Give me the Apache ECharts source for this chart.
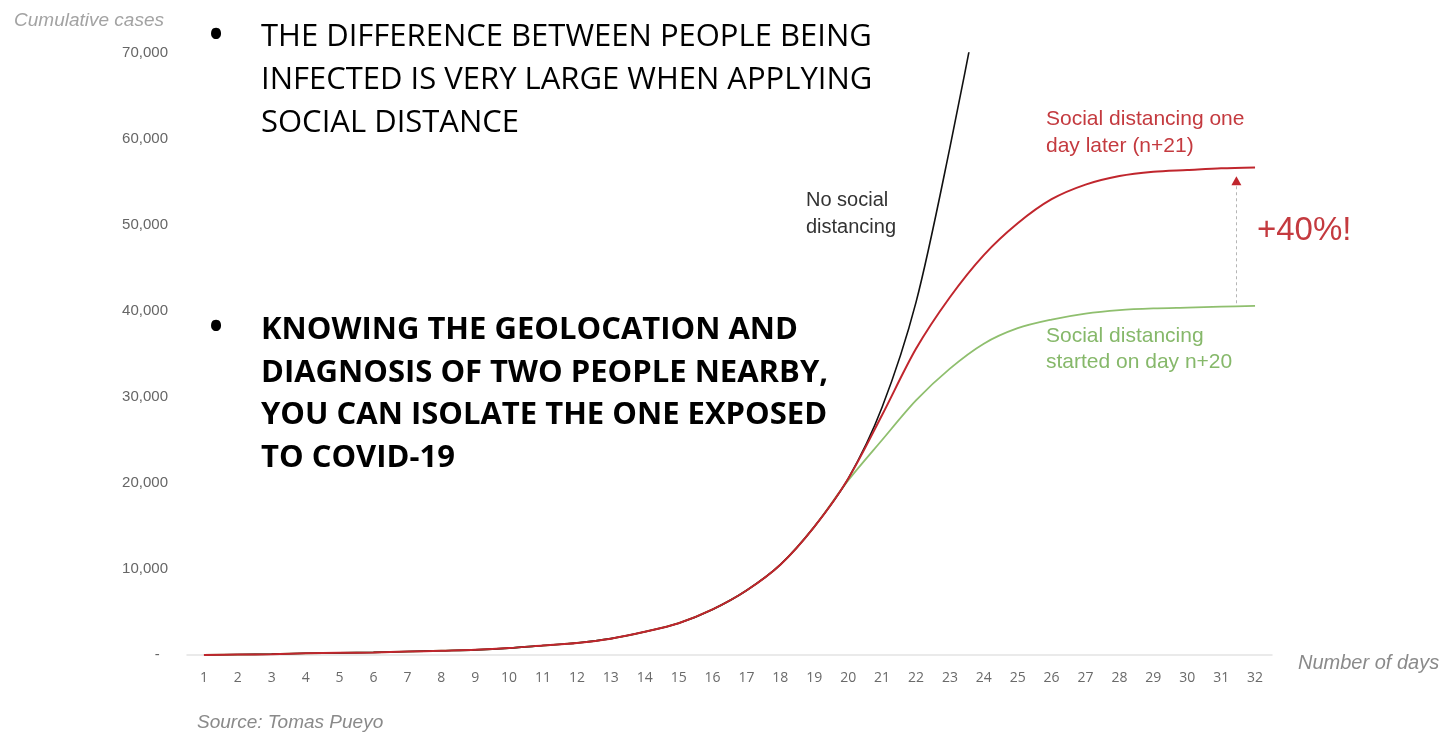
<!DOCTYPE html>
<html>
<head>
<meta charset="utf-8">
<script src="https://cdn.jsdelivr.net/npm/echarts@6/dist/echarts.min.js"></script>
<style>
  html, body { margin: 0; padding: 0; background: #fff; }
  #main { width: 1445px; height: 733px; }
</style>
</head>
<body>
<div id="main"></div>
<script>
// days on the x axis
var days = [1,2,3,4,5,6,7,8,9,10,11,12,13,14,15,16,17,18,19,20,21,22,23,24,25,26,27,28,29,30,31,32];
var yTicks = [0,10000,20000,30000,40000,50000,60000,70000];

// cumulative cases
var noDistancing = [0,50,100,200,250,300,400,500,600,800,1100,1400,1900,2700,3700,5300,7500,10500,14900,20500,28800,41000,59000,79000];
var distancingDay21 = [0,50,100,200,250,300,400,500,600,800,1100,1400,1900,2700,3700,5300,7500,10500,14900,20500,27900,35600,41600,46500,50200,53000,54700,55700,56200,56400,56600,56700];
var distancingDay20 = [0,50,100,200,250,300,400,500,600,800,1100,1400,1900,2700,3700,5300,7500,10500,14900,20300,25000,29600,33300,36200,38000,39000,39700,40100,40300,40400,40500,40600];

// the +40% arrow between the two plateaus
var arrowDay = 31.45;
var arrowFrom = 40900;
var arrowTo = 54600;

function pairs(vals) {
    var out = [];
    for (var i = 0; i < vals.length; i++) {
        out.push([days[i], vals[i]]);
    }
    return out;
}

var chart = echarts.init(document.getElementById('main'));

var option = {
    animation: false,
    title: [
        {
            text: 'Cumulative cases',
            right: 1445 - 169, top: 6,
            textStyle: { fontFamily: 'Liberation Sans', fontStyle: 'italic', fontWeight: 'normal', fontSize: 19, color: '#a3a3a3' }
        },
        {
            text: 'Source: Tomas Pueyo',
            left: 192, top: 708,
            textStyle: { fontFamily: 'Liberation Sans', fontStyle: 'italic', fontWeight: 'normal', fontSize: 19, color: '#8a8a8a' }
        }
    ],
    grid: { left: 187, right: 173, top: 53, bottom: 78 },
    xAxis: {
        type: 'value',
        min: 0.5,
        max: 32.5,
        name: 'Number of days',
        nameLocation: 'end',
        nameGap: 26,
        nameTextStyle: { fontFamily: 'Liberation Sans', fontStyle: 'italic', fontSize: 20, color: '#8a8a8a', verticalAlign: 'top', padding: [-2, 0, 0, 0] },
        axisLine: { show: true, lineStyle: { color: '#e3e3e3', width: 1.5 } },
        axisTick: { show: false },
        splitLine: { show: false },
        axisLabel: {
            customValues: days,
            margin: 16,
            fontFamily: 'Open Sans',
            fontSize: 14,
            color: '#6a6a6a'
        }
    },
    yAxis: {
        type: 'value',
        min: 0,
        max: 70000,
        interval: 10000,
        axisLine: { show: false },
        axisTick: { show: false },
        splitLine: { show: false },
        axisLabel: {
            margin: 19,
            fontFamily: 'Liberation Sans',
            fontSize: 15,
            color: '#666',
            formatter: function (v) {
                if (yTicks.indexOf(v) < 0) return '';
                return v === 0 ? '-  ' : v.toLocaleString('en-US');
            }
        }
    },
    series: [
        {
            name: 'Social distancing started on day n+20',
            type: 'line',
            data: pairs(distancingDay20),
            smooth: 0.3,
            showSymbol: false,
            lineStyle: { color: '#8fbf6e', width: 1.8 },
            markLine: {
                silent: true,
                symbol: ['none', 'none'],
                label: { show: false },
                lineStyle: { color: '#b5b5b5', type: [3, 3], width: 1 },
                data: [[{ coord: [arrowDay, arrowFrom] }, { coord: [arrowDay, arrowTo] }]]
            },
            markPoint: {
                silent: true,
                symbol: 'triangle',
                symbolSize: [10, 9],
                label: { show: false },
                itemStyle: { color: '#c0262d' },
                data: [{ coord: [arrowDay, arrowTo + 550] }]
            }
        },
        {
            name: 'No social distancing',
            type: 'line',
            data: pairs(noDistancing),
            smooth: 0.3,
            showSymbol: false,
            clip: true,
            lineStyle: { color: '#111', width: 1.6 }
        },
        {
            name: 'Social distancing one day later (n+21)',
            type: 'line',
            data: pairs(distancingDay21),
            smooth: 0.3,
            showSymbol: false,
            lineStyle: { color: '#c0262d', width: 2 }
        }
    ],
    graphic: [
        // slide bullet points
        { type: 'text', x: 216, y: 37, style: { text: '•', font: '48px "Open Sans"', fill: '#000', align: 'center', verticalAlign: 'middle' } },
        { type: 'text', left: 261, top: 16, style: { text: 'THE DIFFERENCE BETWEEN PEOPLE BEING\nINFECTED IS VERY LARGE WHEN APPLYING\nSOCIAL DISTANCE', font: '31px "Open Sans"', lineHeight: 43, fill: '#000' } },
        { type: 'text', x: 216, y: 329, style: { text: '•', font: '48px "Open Sans"', fill: '#000', align: 'center', verticalAlign: 'middle' } },
        { type: 'text', left: 261, top: 309, style: { text: 'KNOWING THE GEOLOCATION AND\nDIAGNOSIS OF TWO PEOPLE NEARBY,\nYOU CAN ISOLATE THE ONE EXPOSED\nTO COVID-19', font: 'bold 31px "Open Sans"', lineHeight: 42.5, fill: '#000' } },
        // curve annotations
        { type: 'text', left: 806, top: 187, style: { text: 'No social\ndistancing', font: '20px "Liberation Sans"', lineHeight: 27, fill: '#333' } },
        { type: 'text', left: 1046, top: 106, style: { text: 'Social distancing one\nday later (n+21)', font: '21px "Liberation Sans"', lineHeight: 27, fill: '#c43a3f' } },
        { type: 'text', left: 1257, top: 214, style: { text: '+40%!', font: '33px "Liberation Sans"', fill: '#c43a3f' } },
        { type: 'text', left: 1046, top: 323, style: { text: 'Social distancing\nstarted on day n+20', font: '21px "Liberation Sans"', lineHeight: 26, fill: '#86b86a' } }
    ]
};

chart.setOption(option);
</script>
</body>
</html>
